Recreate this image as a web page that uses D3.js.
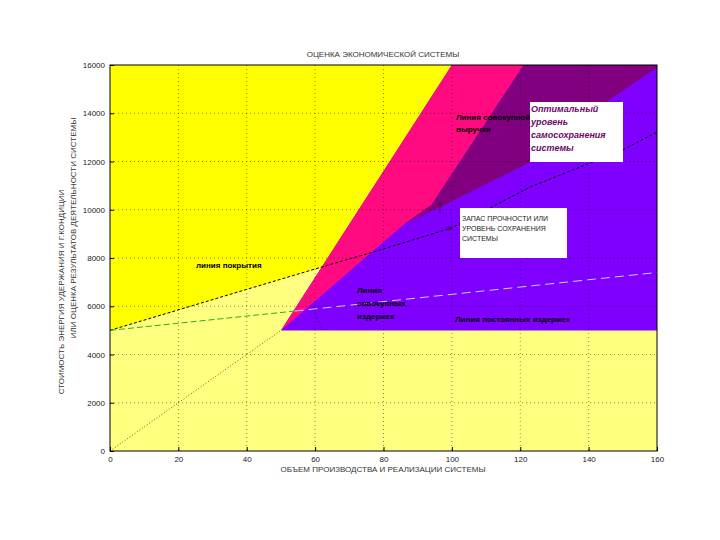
<!DOCTYPE html>
<html><head><meta charset="utf-8">
<script src="https://cdn.jsdelivr.net/npm/d3@7"></script>
<style>body{margin:0;background:#fff}svg{display:block}text{font-family:"Liberation Sans",Arial,sans-serif}</style>
</head><body>
<script>
// ---- data ----
const xTicks = [0,20,40,60,80,100,120,140,160];
const yTicks = [0,2000,4000,6000,8000,10000,12000,14000,16000];
const revenueX = [0,50], revenueY = [0,5000];                 // dotted line from origin
const coverageX = [0,40,62,79,100,123,150,160];
const coverageY = [5000,6700,7630,8330,9250,10950,12480,13220];
const costX = [0,54,160], costY = [5000,5800,7400];
const brightYellowX = [0,40,62,100,0], brightYellowY = [5000,6700,7640,16000,16000];
const blueX = [50,160,160,100], blueY = [5000,5000,16000,16000];
const pinkX = [50,100,121,94,86], pinkY = [5000,16000,16000,10200,9400];
const darkX = [86,94,121,160,160,146,123,96], darkY = [9400,10200,16000,16000,15900,14550,11980,10070];
const pointerX = [59.4,62], pointerY = [5970,5020];
const circleX = [57.9], circleY = [6260];
const arrowX = [96.5,96.5], arrowY = [9850,10300];
const starX = [99.2], starY = [9230];

const W=720,H=540, L=110,R=657,T=65,B=451;
const svg=d3.select("body").append("svg").attr("width",W).attr("height",H);
const x=d3.scaleLinear().domain([0,160]).range([L,R]);
const y=d3.scaleLinear().domain([0,16000]).range([B,T]);
const pts=(xs,ys)=>xs.map((v,i)=>[x(v),y(ys[i])]);
const line=d3.line();

svg.append("rect").attr("x",L).attr("y",T).attr("width",R-L).attr("height",B-T).attr("fill","#FFFF80");
svg.append("path").attr("d",line(pts(brightYellowX,brightYellowY))+"Z").attr("fill","#FFFF00");
svg.append("path").attr("d",line(pts(blueX,blueY))+"Z").attr("fill","#8000FF");
svg.append("path").attr("d",line(pts(pinkX,pinkY))+"Z").attr("fill","#FF0A80");
svg.append("path").attr("d",line(pts(darkX,darkY))+"Z").attr("fill","#800080");

// grid
const g=svg.append("g");
xTicks.slice(1,-1).forEach(t=>g.append("line").attr("x1",x(t)).attr("x2",x(t)).attr("y1",T).attr("y2",B)
  .attr("stroke","#000").attr("stroke-opacity",0.45).attr("stroke-dasharray","1,3"));
yTicks.slice(1,-1).forEach(t=>g.append("line").attr("y1",y(t)).attr("y2",y(t)).attr("x1",L).attr("x2",R)
  .attr("stroke","#000").attr("stroke-opacity",0.45).attr("stroke-dasharray","1,3"));

// lines
svg.append("path").attr("d",line(pts(revenueX,revenueY))).attr("stroke","#B04000").attr("fill","none").attr("stroke-dasharray","1,2");
svg.append("path").attr("d",line(pts(coverageX,coverageY))).attr("stroke","#000").attr("fill","none").attr("stroke-dasharray","3,2");
svg.append("path").attr("d",line(pts(costX.slice(0,2),costY.slice(0,2)))).attr("stroke","#20B020").attr("fill","none").attr("stroke-dasharray","6,3");
svg.append("path").attr("d",line(pts(costX.slice(1),costY.slice(1)))).attr("stroke","#C0D4FF").attr("fill","none").attr("stroke-dasharray","9,5");
svg.append("path").attr("d",line(pts(pointerX,pointerY))).attr("stroke","#202060").attr("fill","none").attr("stroke-dasharray","1,2");
svg.append("circle").attr("cx",x(circleX[0])).attr("cy",y(circleY[0])).attr("r",3).attr("fill","none").attr("stroke","#C02060");
svg.append("path").attr("d",line(pts(arrowX,arrowY))).attr("stroke","#500050").attr("fill","none");
svg.append("path").attr("d",`M${x(arrowX[1])-2.5},${y(arrowY[1])+4}L${x(arrowX[1])},${y(arrowY[1])}L${x(arrowX[1])+2.5},${y(arrowY[1])+4}`).attr("stroke","#500050").attr("fill","none");
svg.append("path").attr("d",d3.symbol(d3.symbolAsterisk,14)()).attr("transform",`translate(${x(starX[0])},${y(starY[0])})`).attr("stroke","#301060").attr("fill","none");

// axes
svg.append("g").attr("transform",`translate(0,${B})`).call(d3.axisBottom(x).tickValues(xTicks).tickFormat(d3.format("d")).tickSize(-4).tickPadding(5))
  .call(a=>{a.select(".domain").remove();a.selectAll("text").attr("font-size",8).attr("fill","#222");});
svg.append("g").attr("transform",`translate(${L},0)`).call(d3.axisLeft(y).tickValues(yTicks).tickFormat(d3.format("d")).tickSize(-4).tickPadding(5))
  .call(a=>{a.select(".domain").remove();a.selectAll("text").attr("font-size",8).attr("fill","#222");});
svg.append("rect").attr("x",L).attr("y",T).attr("width",R-L).attr("height",B-T).attr("fill","none").attr("stroke","#000");

// titles
svg.append("text").attr("x",383).attr("y",57).attr("text-anchor","middle").attr("font-size",8).attr("fill","#333").text("ОЦЕНКА ЭКОНОМИЧЕСКОЙ СИСТЕМЫ");
svg.append("text").attr("x",383).attr("y",472).attr("text-anchor","middle").attr("font-size",8).attr("fill","#333").text("ОБЪЕМ ПРОИЗВОДСТВА И РЕАЛИЗАЦИИ СИСТЕМЫ");
svg.append("text").attr("transform","translate(64,292) rotate(-90)").attr("text-anchor","middle").attr("font-size",8).attr("fill","#333").text("СТОИМОСТЬ   ЭНЕРГИЯ УДЕРЖАНИЯ И Г.КОНДИЦИИ");
svg.append("text").attr("transform","translate(76,228) rotate(-90)").attr("text-anchor","middle").attr("font-size",8).attr("fill","#333").text("ИЛИ ОЦЕНКА РЕЗУЛЬТАТОВ ДЕЯТЕЛЬНОСТИ СИСТЕМЫ");

// annotations
const bold=(tx,ty,s,fs,col)=>svg.append("text").attr("x",tx).attr("y",ty).attr("font-size",fs||8).attr("font-weight","bold").attr("fill",col||"#000").text(s);
bold(196,268,"линия покрытия");
bold(456,120,"Линия совокупной");
bold(456,132,"выручки");
bold(357,293,"Линия");
bold(357,306,"совокупных");
bold(357,319,"издержек");
bold(455,322,"Линия постоянных издержек");
svg.append("rect").attr("x",530).attr("y",102).attr("width",93).attr("height",60).attr("fill","#fff");
[["Оптимальный",112],["уровень",125],["самосохранения",138],["системы",151]].forEach(d=>bold(531,d[1],d[0],9,"#6A0A6A").attr("font-style","italic"));
svg.append("rect").attr("x",460).attr("y",208).attr("width",107).attr("height",50).attr("fill","#fff");
[["ЗАПАС ПРОЧНОСТИ ИЛИ",221],["УРОВЕНЬ СОХРАНЕНИЯ",231],["СИСТЕМЫ",241]].forEach(d=>svg.append("text").attr("x",462).attr("y",d[1]).attr("font-size",7).attr("fill","#222").text(d[0]));
</script>
</body></html>
